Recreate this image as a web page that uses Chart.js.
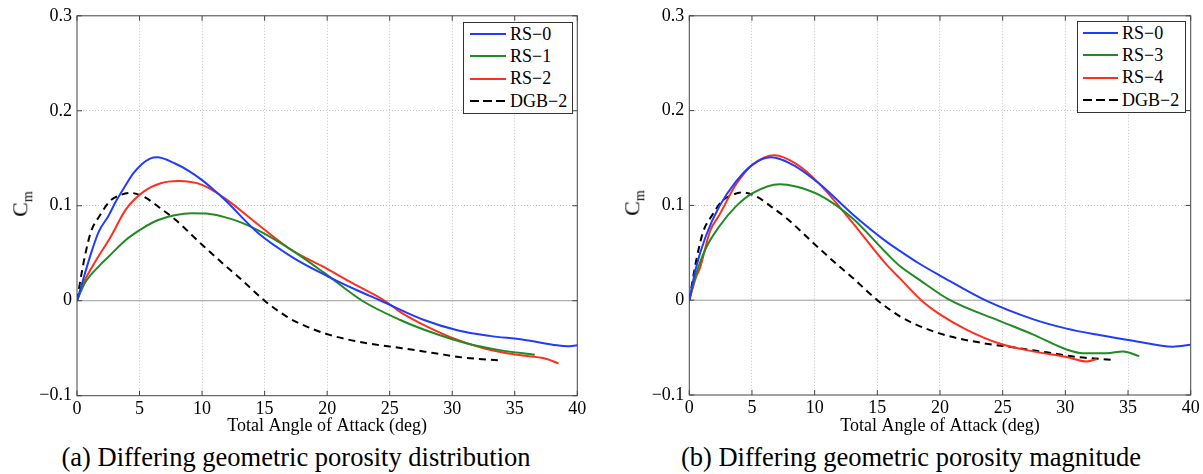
<!DOCTYPE html>
<html>
<head>
<meta charset="utf-8">
<script src="https://cdn.jsdelivr.net/npm/chart.js@4"></script>
<style>
  body { margin: 0; background: #fff; width: 1203px; height: 474px; position: relative; overflow: hidden;
         font-family: 'Liberation Serif', 'Times New Roman', serif; color: #000; }
  .panel { position: absolute; top: 0; height: 440px; }
  .ylab { position: absolute; font-size: 22px; white-space: nowrap; transform: translate(-50%, -50%) rotate(-90deg); }
  .ylab sub { font-size: 14px; }
  .legend { position: absolute; border: 1px solid #333; background: #fff; box-sizing: border-box; font-size: 18px; }
  .legend .row { height: 22.3px; display: flex; align-items: center; }
  .legend .swatch { height: 2px; margin-right: 4px; }
  .caption { position: absolute; font-size: 26.5px; line-height: 30px; white-space: nowrap; transform: translateX(-50%); }
</style>
</head>
<body>
  <div class="panel" style="left:0;width:600px"><canvas id="chartA"></canvas></div>
  <div class="panel" style="left:612px;width:591px"><canvas id="chartB"></canvas></div>
  <div class="ylab" style="left:22px;top:204px">C<sub>m</sub></div>
  <div class="ylab" style="left:634px;top:203px">C<sub>m</sub></div>
  <div class="legend" id="legendA" style="left:463px;top:22px;width:110px;height:92px"></div>
  <div class="legend" id="legendB" style="left:1077px;top:21px;width:109px;height:92px"></div>
  <div class="caption" style="left:296px;top:442px">(a) Differing geometric porosity distribution</div>
  <div class="caption" style="left:911px;top:442px">(b) Differing geometric porosity magnitude</div>

<script>
  // Axis ranges
  const X_MIN = 0, X_MAX = 40, X_STEP = 5;
  const Y_MIN = -0.1, Y_MAX = 0.3, Y_STEP = 0.1;
  const X_TITLE = 'Total Angle of Attack (deg)';

  // DGB-2 (same in both panels)
  const ANGLE_DGB2 = [0, 0.37, 0.6, 1.1, 1.84, 2.64, 3.44, 4.24, 5.4, 6.5, 7.8, 10.0, 11.8, 13.0, 15.0, 16.8, 17.8, 20.2, 23.3, 26.0, 28.5, 31.0, 33.9];
  const CM_DGB2    = [0, 0.029, 0.045, 0.072, 0.090, 0.105, 0.111, 0.1136, 0.109, 0.099, 0.086, 0.059, 0.0375, 0.024, 0.0, -0.017, -0.024, -0.036, -0.045, -0.050, -0.055, -0.060, -0.063];

  // Panel (a)
  const ANGLE_A_RS0 = [0, 0.64, 1.2, 1.75, 2.5, 3.17, 3.86, 4.5, 5.2, 5.84, 6.4, 7.84, 8.9, 10.0, 11.0, 11.84, 14.5, 17.2, 20.0, 22.4, 24.3, 27.7, 30.4, 33.0, 35.7, 38.4, 39.2, 40];
  const CM_A_RS0    = [0, 0.029, 0.053, 0.073, 0.089, 0.106, 0.121, 0.134, 0.144, 0.1497, 0.151, 0.1445, 0.137, 0.127, 0.116, 0.106, 0.071, 0.046, 0.026, 0.011, 0.0, -0.020, -0.031, -0.037, -0.041, -0.047, -0.048, -0.047];
  const ANGLE_A_RS1 = [0, 0.6, 1.8, 2.5, 3.9, 5.2, 6.5, 7.8, 9.2, 10.5, 11.8, 13.2, 14.5, 17.2, 19.8, 22.8, 25.8, 28.5, 31.2, 33.8, 36.6];
  const CM_A_RS1    = [0, 0.018, 0.037, 0.046, 0.064, 0.076, 0.085, 0.090, 0.092, 0.0915, 0.088, 0.082, 0.074, 0.053, 0.029, 0.0, -0.020, -0.034, -0.045, -0.052, -0.057];
  const ANGLE_A_RS2 = [0, 0.5, 1.5, 2.64, 3.9, 5.3, 6.64, 8.1, 10.0, 11.8, 14.5, 17.2, 19.8, 21.8, 24.6, 25.8, 27.2, 29.8, 32.5, 35.2, 37.5, 38.5];
  const CM_A_RS2    = [0, 0.018, 0.042, 0.066, 0.096, 0.1146, 0.1234, 0.126, 0.122, 0.108, 0.080, 0.053, 0.035, 0.020, 0.0, -0.0115, -0.022, -0.038, -0.050, -0.057, -0.061, -0.066];

  // Panel (b)
  const ANGLE_B_RS0 = [0, 0.53, 1.33, 2.4, 3.72, 5.05, 6.5, 8.5, 10.36, 13.0, 15.7, 16.8, 18.3, 20.0, 23.6, 27.4, 30.1, 32.7, 35.4, 38.6, 40];
  const CM_B_RS0    = [0, 0.034, 0.068, 0.099, 0.125, 0.143, 0.1507, 0.141, 0.123, 0.091, 0.062, 0.052, 0.039, 0.026, 0.0, -0.020, -0.030, -0.0367, -0.0427, -0.049, -0.047];
  const ANGLE_B_RS3 = [0, 0.53, 1.33, 2.4, 3.72, 5.05, 7.2, 8.5, 10.36, 13.0, 15.7, 16.8, 18.3, 20.8, 24.8, 27.4, 30.1, 31.4, 33.3, 34.6, 35.9];
  const CM_B_RS3    = [0, 0.027, 0.055, 0.078, 0.099, 0.113, 0.1224, 0.120, 0.111, 0.0867, 0.050, 0.036, 0.022, 0.0, -0.022, -0.036, -0.052, -0.056, -0.056, -0.054, -0.059];
  const ANGLE_B_RS4 = [0, 0.53, 0.85, 1.66, 2.4, 3.72, 5.05, 6.8, 8.5, 10.36, 13.0, 15.7, 16.8, 18.5, 20.0, 22.1, 24.8, 27.4, 30.1, 31.7, 32.5];
  const CM_B_RS4    = [0, 0.024, 0.034, 0.073, 0.090, 0.122, 0.143, 0.153, 0.144, 0.123, 0.082, 0.038, 0.023, 0.0, -0.015, -0.031, -0.046, -0.054, -0.060, -0.0647, -0.062];

  const BLUE = '#1f3cff', GREEN = '#228a22', RED = '#ff2e1e', BLACK = '#000';

  Chart.defaults.font.family = "'Liberation Serif', 'Times New Roman', serif";
  Chart.defaults.font.size = 18;
  Chart.defaults.color = '#000';

  function pts(xs, ys) {
    return xs.map((x, i) => ({ x: x, y: ys[i] }));
  }

  function series(label, xs, ys, color, dashed) {
    return {
      label: label,
      data: pts(xs, ys),
      borderColor: color,
      borderWidth: 2,
      borderDash: dashed ? [7, 5] : [],
      pointRadius: 0,
      cubicInterpolationMode: 'monotone',
      fill: false
    };
  }

  // Zero line, box round the plot and inward ticks (MATLAB look)
  const framePlugin = {
    id: 'frame',
    beforeDatasetsDraw(chart) {
      const { ctx, chartArea: a, scales: { y } } = chart;
      const y0 = y.getPixelForValue(0);
      ctx.save();
      ctx.strokeStyle = '#9a9a9a';
      ctx.lineWidth = 1;
      ctx.beginPath();
      ctx.moveTo(a.left, y0);
      ctx.lineTo(a.right, y0);
      ctx.stroke();
      ctx.restore();
    },
    afterDraw(chart) {
      const { ctx, chartArea: a, scales: { x, y } } = chart;
      ctx.save();
      ctx.strokeStyle = '#444';
      ctx.lineWidth = 1;
      ctx.strokeRect(a.left, a.top, a.right - a.left, a.bottom - a.top);
      ctx.beginPath();
      x.ticks.forEach(t => {
        const px = x.getPixelForValue(t.value);
        ctx.moveTo(px, a.top); ctx.lineTo(px, a.top + 5);
        ctx.moveTo(px, a.bottom); ctx.lineTo(px, a.bottom - 5);
      });
      y.ticks.forEach(t => {
        const py = y.getPixelForValue(t.value);
        ctx.moveTo(a.left, py); ctx.lineTo(a.left + 5, py);
        ctx.moveTo(a.right, py); ctx.lineTo(a.right - 5, py);
      });
      ctx.stroke();
      ctx.restore();
    }
  };

  function makeChart(id, datasets, geo) {
    return new Chart(document.getElementById(id), {
      type: 'line',
      data: { datasets: datasets },
      plugins: [framePlugin],
      options: {
        responsive: true,
        maintainAspectRatio: false,
        animation: false,
        layout: { padding: { top: geo.top, right: geo.right, bottom: 0, left: 0 } },
        plugins: { legend: { display: false }, tooltip: { enabled: false } },
        scales: {
          x: {
            type: 'linear',
            min: X_MIN, max: X_MAX,
            afterFit: s => { s.height = geo.xh; },
            ticks: { stepSize: X_STEP, padding: 2.5, maxRotation: 0 },
            grid: {
              drawTicks: false,
              color: c => (c.tick && (c.tick.value === X_MIN || c.tick.value === X_MAX)) ? 'rgba(0,0,0,0)' : '#c4c4c4'
            },
            border: { display: false, dash: [1, 2] },
            title: { display: true, text: X_TITLE, padding: { top: 0, bottom: 3.2 } }
          },
          y: {
            min: Y_MIN, max: Y_MAX,
            afterFit: s => { s.width = geo.yw; },
            ticks: {
              stepSize: Y_STEP, padding: 5,
              callback: v => {
                const r = Math.round(v * 10) / 10;
                return r < 0 ? '\u2212' + Math.abs(r) : String(r);
              }
            },
            grid: {
              drawTicks: false,
              color: c => {
                const v = c.tick ? Math.round(c.tick.value * 10) / 10 : 0;
                return (v === 0 || v === Y_MIN || v === Y_MAX) ? 'rgba(0,0,0,0)' : '#c4c4c4';
              }
            },
            border: { display: false, dash: [1, 2] }
          }
        }
      }
    });
  }

  function buildLegend(chart, el, inset, lineW) {
    chart.data.datasets.forEach(ds => {
      const row = document.createElement('div');
      row.className = 'row';
      const sw = document.createElement('span');
      sw.className = 'swatch';
      sw.style.marginLeft = inset + 'px';
      sw.style.width = lineW + 'px';
      sw.style.background = ds.borderDash.length
        ? 'repeating-linear-gradient(to right, #000 0 9px, transparent 9px 13px)'
        : ds.borderColor;
      const txt = document.createElement('span');
      txt.textContent = ds.label;
      row.appendChild(sw);
      row.appendChild(txt);
      el.appendChild(row);
    });
  }

  const chartA = makeChart('chartA', [
    series('RS\u22120', ANGLE_A_RS0, CM_A_RS0, BLUE),
    series('RS\u22121', ANGLE_A_RS1, CM_A_RS1, GREEN),
    series('RS\u22122', ANGLE_A_RS2, CM_A_RS2, RED),
    series('DGB\u22122', ANGLE_DGB2, CM_DGB2, BLACK, true)
  ], { top: 15, right: 22.7, xh: 44.3, yw: 77 });

  const chartB = makeChart('chartB', [
    series('RS\u22120', ANGLE_B_RS0, CM_B_RS0, BLUE),
    series('RS\u22123', ANGLE_B_RS3, CM_B_RS3, GREEN),
    series('RS\u22124', ANGLE_B_RS4, CM_B_RS4, RED),
    series('DGB\u22122', ANGLE_DGB2, CM_DGB2, BLACK, true)
  ], { top: 14, right: 12.3, xh: 45, yw: 77.3 });

  buildLegend(chartA, document.getElementById('legendA'), 6, 36);
  buildLegend(chartB, document.getElementById('legendB'), 5, 35);
</script>
</body>
</html>
